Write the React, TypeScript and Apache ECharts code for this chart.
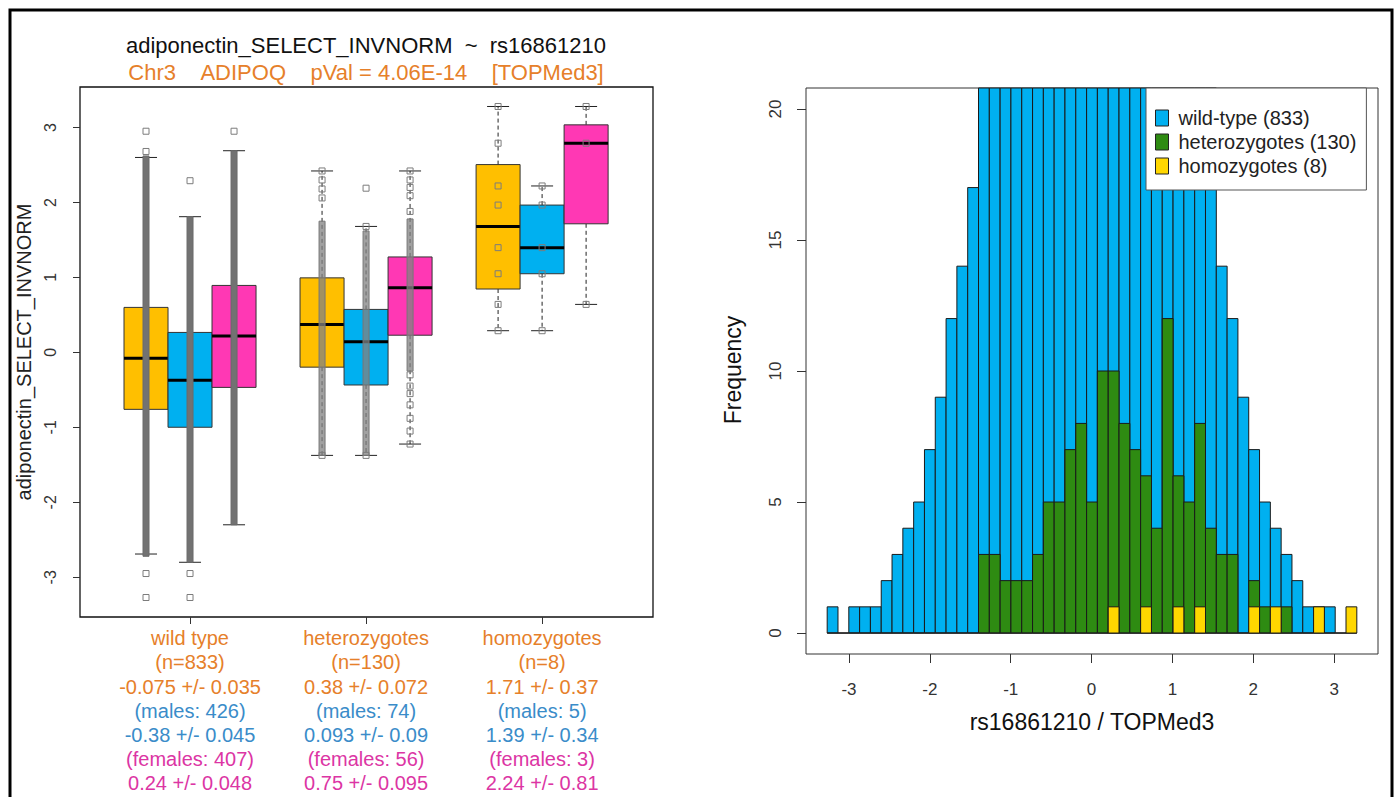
import React, { useEffect, useRef } from 'react';
import * as echarts from 'echarts';

const FONT = "'Liberation Sans', Arial, sans-serif";

// ---- left panel: genotype groups ----
const groups = ['wild type', 'heterozygotes', 'homozygotes'];
const groupN = [833, 130, 8];
const allMean = [-0.075, 0.38, 1.71];
const allSe = [0.035, 0.072, 0.37];
const maleN = [426, 74, 5];
const maleMean = [-0.38, 0.093, 1.39];
const maleSe = [0.045, 0.09, 0.34];
const femaleN = [407, 56, 3];
const femaleMean = [0.24, 0.75, 2.24];
const femaleSe = [0.048, 0.095, 0.81];

// [lower whisker, Q1, median, Q3, upper whisker]
const boxAll = [
  [-2.69, -0.76, -0.078, 0.6, 2.6],
  [-1.374, -0.197, 0.371, 0.994, 2.42],
  [0.289, 0.845, 1.68, 2.505, 3.28],
];
const boxMales = [
  [-2.8, -0.999, -0.371, 0.266, 1.81],
  [-1.374, -0.435, 0.142, 0.573, 1.68],
  [0.289, 1.049, 1.397, 1.965, 2.22],
];
const boxFemales = [
  [-2.3, -0.467, 0.22, 0.893, 2.69],
  [-1.223, 0.229, 0.861, 1.273, 2.42],
  [0.64, 1.715, 2.79, 3.035, 3.28],
];

// runs of overlapping points [from, to]
const stripAll: (number[] | null)[] = [[-2.72, 2.62], [-1.374, 1.75], null];
const stripMales: (number[] | null)[] = [[-2.8, 1.81], [-1.374, 1.62], null];
const stripFemales: (number[] | null)[] = [[-2.3, 2.69], [-0.25, 1.78], null];

// separately visible points
const pointsAll = [
  [2.95, 2.68, -2.95, -3.27],
  [2.42, 2.3, 2.18, 2.06, -1.374],
  [3.28, 2.79, 2.22, 1.965, 1.397, 1.049, 0.64, 0.289],
];
const pointsMales = [
  [2.29, -2.95, -3.27],
  [2.19, 1.68, -1.374],
  [2.22, 1.965, 1.397, 1.049, 0.289],
];
const pointsFemales = [
  [2.95],
  [2.42, 2.3, 2.2, 2.09, 1.88, -0.3, -0.45, -0.55, -0.7, -0.88, -1.05, -1.223],
  [3.28, 2.79, 0.64],
];

// ---- right panel: histogram ----
const histMin = -3.27;
const histMax = 3.28;
const histBinCount = 49;
const wildCounts = [
  1, 0, 1, 1, 1, 2, 3, 4, 5, 7, 9, 12, 14, 17,
  21, 23, 26, 28, 31, 33, 36, 38, 40, 41, 42, 41, 39, 38, 36, 33, 31, 28, 26, 23, 22, 21,
  14, 12, 9, 7, 5, 4, 3, 2, 1, 1, 1, 0, 0,
];
const hetCounts = [
  0, 0, 0, 0, 0, 0, 0, 0, 0, 0, 0, 0, 0, 0,
  3, 3, 2, 2, 2, 3, 5, 5, 7, 8, 5, 10, 10, 8, 7, 6, 4, 12, 6, 5, 8, 4,
  3, 3, 0, 2, 1, 0, 1, 0, 0, 0, 0, 0, 0,
];
const homCounts = [
  0, 0, 0, 0, 0, 0, 0, 0, 0, 0, 0, 0, 0, 0,
  0, 0, 0, 0, 0, 0, 0, 0, 0, 0, 0, 0, 1, 0, 0, 1, 0, 0, 1, 0, 1, 0,
  0, 0, 0, 1, 0, 1, 0, 0, 0, 1, 0, 0, 1,
];
const histNames = ['wild-type (833)', 'heterozygotes (130)', 'homozygotes (8)'];

const histBreaks = Array.from({ length: histBinCount + 1 }, (_, i) => histMin + (i * (histMax - histMin)) / histBinCount);

const boxColors = ['#ffbf00', '#00b0f0', '#ff38b4'];
const histColors = ['#00b0f0', '#2e8b12', '#ffd700'];
const ORANGE = '#e6802a';
const BLUE = '#3a8cc9';
const PINK = '#dc35a4';

const subOffsets = [-0.25, 0, 0.25];
const boxWidthUnits = 0.25;

const boxSets = [boxAll, boxMales, boxFemales];
const stripSets = [stripAll, stripMales, stripFemales];
const pointSets = [pointsAll, pointsMales, pointsFemales];

function boxRender(sub: number) {
  return (params: any, api: any) => {
    const g = params.dataIndex;
    const xc = api.value(0);
    const lo = api.value(1);
    const q1 = api.value(2);
    const med = api.value(3);
    const q3 = api.value(4);
    const hi = api.value(5);
    const w = api.size([boxWidthUnits, 0])[0];
    const cx = api.coord([xc, 0])[0];
    const py = (v: number) => api.coord([xc, v])[1];
    const children: any[] = [];
    const dash = { stroke: '#222', lineWidth: 1, lineDash: [4, 3] };
    children.push({ type: 'line', shape: { x1: cx, y1: py(q3), x2: cx, y2: py(hi) }, style: dash });
    children.push({ type: 'line', shape: { x1: cx, y1: py(q1), x2: cx, y2: py(lo) }, style: dash });
    children.push({ type: 'line', shape: { x1: cx - w / 4, y1: py(hi), x2: cx + w / 4, y2: py(hi) }, style: { stroke: '#222', lineWidth: 1 } });
    children.push({ type: 'line', shape: { x1: cx - w / 4, y1: py(lo), x2: cx + w / 4, y2: py(lo) }, style: { stroke: '#222', lineWidth: 1 } });
    children.push({
      type: 'rect',
      shape: { x: cx - w / 2, y: py(q3), width: w, height: py(q1) - py(q3) },
      style: { fill: boxColors[sub], stroke: '#333', lineWidth: 1 },
    });
    children.push({ type: 'line', shape: { x1: cx - w / 2, y1: py(med), x2: cx + w / 2, y2: py(med) }, style: { stroke: '#000', lineWidth: 3 } });
    const strip = stripSets[sub][g];
    if (strip) {
      const dense = g === 0;
      children.push({
        type: 'rect',
        shape: { x: cx - 3, y: py(strip[1]), width: 6, height: py(strip[0]) - py(strip[1]) },
        style: dense ? { fill: '#727272', stroke: '#6a6a6a', lineWidth: 1 } : { fill: 'rgba(130,130,130,0.75)', stroke: '#777', lineWidth: 1 },
      });
    }
    for (const v of pointSets[sub][g]) {
      const y = py(v);
      children.push({ type: 'rect', shape: { x: cx - 3, y: y - 3, width: 6, height: 6 }, style: { fill: 'none', stroke: '#7c7c7c', lineWidth: 1 } });
    }
    return { type: 'group', children };
  };
}

function histRender(color: string) {
  return (params: any, api: any) => {
    const x0 = api.value(0);
    const x1 = api.value(1);
    const c = api.value(2);
    const pTop = api.coord([x0, c]);
    const pBot = api.coord([x1, 0]);
    if (c === 0) {
      return { type: 'line', shape: { x1: pTop[0], y1: pBot[1], x2: pBot[0], y2: pBot[1] }, style: { stroke: '#222', lineWidth: 1 } };
    }
    const cs = params.coordSys;
    const rect = echarts.graphic.clipRectByRect(
      { x: pTop[0], y: pTop[1], width: pBot[0] - pTop[0], height: pBot[1] - pTop[1] },
      { x: cs.x, y: cs.y, width: cs.width, height: cs.height }
    );
    if (!rect) return null;
    return { type: 'rect', shape: rect, style: { fill: color, stroke: '#1a1a1a', lineWidth: 1 } };
  };
}

const labelFormatter = (value: number) => {
  const g = Math.round(value);
  return [
    `{o|${groups[g]}}`,
    `{o|(n=${groupN[g]})}`,
    `{o|${allMean[g]} +/- ${allSe[g]}}`,
    `{b|(males: ${maleN[g]})}`,
    `{b|${maleMean[g]} +/- ${maleSe[g]}}`,
    `{p|(females: ${femaleN[g]})}`,
    `{p|${femaleMean[g]} +/- ${femaleSe[g]}}`,
  ].join('\n');
};

const rich = {
  o: { color: ORANGE, fontSize: 20, lineHeight: 24.2, fontFamily: FONT },
  b: { color: BLUE, fontSize: 20, lineHeight: 24.2, fontFamily: FONT },
  p: { color: PINK, fontSize: 20, lineHeight: 24.2, fontFamily: FONT },
};

const NB = '\u00a0\u00a0\u00a0\u00a0';
const noLine = { show: false, onZero: false };

const option: any = {
  animation: false,
  backgroundColor: '#fff',
  textStyle: { fontFamily: FONT },
  grid: [
    { left: 80, top: 87, width: 573, height: 530, show: true, borderColor: '#111', borderWidth: 1.3, backgroundColor: 'transparent' },
    { left: 806, top: 88, width: 572, height: 566, show: true, borderColor: '#333', borderWidth: 1, backgroundColor: 'transparent' },
  ],
  xAxis: [
    {
      type: 'value', gridIndex: 0, min: -0.625, max: 2.63, position: 'bottom',
      axisLine: noLine, splitLine: { show: false },
      axisTick: { show: true, customValues: [0, 1, 2], length: 7, lineStyle: { color: '#333' } },
      axisLabel: { customValues: [0, 1, 2], formatter: labelFormatter, rich, margin: 9 },
    },
    {
      type: 'value', gridIndex: 1, min: -3.532, max: 3.542, position: 'bottom',
      axisLine: noLine, splitLine: { show: false },
      axisTick: { show: true, customValues: [-3, -2, -1, 0, 1, 2, 3], length: 9, lineStyle: { color: '#333' } },
      axisLabel: { customValues: [-3, -2, -1, 0, 1, 2, 3], fontSize: 17, color: '#333', margin: 27, fontFamily: FONT },
    },
  ],
  yAxis: [
    {
      type: 'value', gridIndex: 0, min: -3.53, max: 3.54, position: 'left',
      axisLine: noLine, splitLine: { show: false },
      axisTick: { show: true, customValues: [-3, -2, -1, 0, 1, 2, 3], length: 7, lineStyle: { color: '#333' } },
      axisLabel: { customValues: [-3, -2, -1, 0, 1, 2, 3], rotate: 90, fontSize: 16, color: '#333', margin: 22, fontFamily: FONT },
    },
    {
      type: 'value', gridIndex: 1, min: -0.8, max: 20.8, position: 'left',
      axisLine: noLine, splitLine: { show: false },
      axisTick: { show: true, customValues: [0, 5, 10, 15, 20], length: 9, lineStyle: { color: '#333' } },
      axisLabel: { customValues: [0, 5, 10, 15, 20], rotate: 90, fontSize: 17, color: '#333', margin: 22, fontFamily: FONT },
    },
  ],
  legend: {
    show: true, orient: 'vertical', left: 1146, top: 88,
    itemWidth: 13, itemHeight: 16, itemGap: 4,
    padding: [20, 10, 14, 9],
    backgroundColor: '#fff', borderColor: '#555', borderWidth: 1,
    selectedMode: false,
    textStyle: { fontSize: 20, color: '#222', fontFamily: FONT, padding: [0, 0, 0, 5] },
    data: histNames.map((n, i) => ({ name: n, icon: 'rect', itemStyle: { color: histColors[i], borderColor: '#222', borderWidth: 1 } })),
  },
  graphic: [
    { type: 'rect', shape: { x: 10, y: 10, width: 1382, height: 820 }, style: { fill: 'none', stroke: '#000', lineWidth: 3 }, silent: true },
    { type: 'text', x: 366, y: 45, style: { text: 'adiponectin_SELECT_INVNORM\u00a0 ~ \u00a0rs16861210', fontSize: 22, fill: '#111', align: 'center', verticalAlign: 'middle', fontFamily: FONT } },
    { type: 'text', x: 366, y: 72, style: { text: `Chr3${NB}ADIPOQ${NB}pVal = 4.06E-14${NB}[TOPMed3]`, fontSize: 22, fill: ORANGE, align: 'center', verticalAlign: 'middle', fontFamily: FONT } },
    { type: 'text', x: 24, y: 352, rotation: Math.PI / 2, style: { text: 'adiponectin_SELECT_INVNORM', fontSize: 20, fill: '#222', align: 'center', verticalAlign: 'middle', fontFamily: FONT } },
    { type: 'text', x: 733, y: 370, rotation: Math.PI / 2, style: { text: 'Frequency', fontSize: 23, fill: '#111', align: 'center', verticalAlign: 'middle', fontFamily: FONT } },
    { type: 'text', x: 1092, y: 722, style: { text: 'rs16861210 / TOPMed3', fontSize: 23, fill: '#111', align: 'center', verticalAlign: 'middle', fontFamily: FONT } },
  ],
  series: [
    ...[0, 1, 2].map((sub) => ({
      type: 'custom', name: ['all', 'males', 'females'][sub], xAxisIndex: 0, yAxisIndex: 0, silent: true,
      data: groups.map((_, g) => [g + subOffsets[sub], ...boxSets[sub][g]]),
      encode: { x: 0, y: [1, 2, 3, 4, 5] },
      renderItem: boxRender(sub),
    })),
    ...[wildCounts, hetCounts, homCounts].map((counts, k) => ({
      type: 'custom', name: histNames[k], xAxisIndex: 1, yAxisIndex: 1, silent: true,
      itemStyle: { color: histColors[k] },
      data: counts.map((c, i) => [histBreaks[i], histBreaks[i + 1], c]),
      encode: { x: [0, 1], y: 2 },
      renderItem: histRender(histColors[k]),
    })),
  ],
};

export default function App() {
  const ref = useRef<HTMLDivElement>(null);
  useEffect(() => {
    const chart = echarts.init(ref.current!, null, { renderer: 'svg' });
    chart.setOption(option);
    return () => chart.dispose();
  }, []);
  return <div ref={ref} style={{ position: 'fixed', left: 0, top: 0, width: 1395, height: 797, background: '#fff' }} />;
}
